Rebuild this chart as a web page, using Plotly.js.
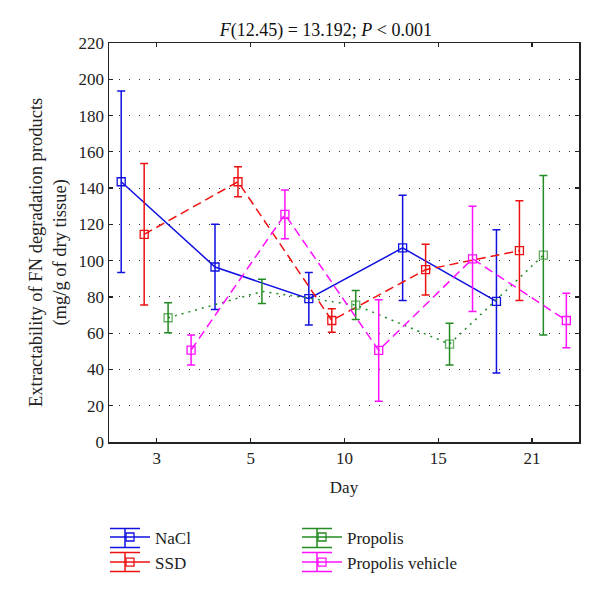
<!DOCTYPE html>
<html>
<head>
<meta charset="utf-8">
<script src="https://cdn.plot.ly/plotly-3.0.1.min.js"></script>
<style>html,body{margin:0;padding:0;background:#fff;}#chart{width:600px;height:595px;}</style>
</head>
<body>
<div id="chart"></div>
<script>
// Data
var days = ["3", "5", "10", "15", "21"];
var seriesNames = ["NaCl", "SSD", "Propolis", "Propolis vehicle"];
var naclMean = [143.5, 96.5, 79, 107, 77.5];
var naclErr  = [50, 23.5, 14.5, 29, 39.5];
var ssdMean  = [114.5, 143.5, 67, 95, 105.5];
var ssdErr   = [39, 8.3, 6.5, 14, 27.5];
var propMean = [68.5, 83, 75.5, 54, 103];
var propErr  = [8.3, 6.7, 8, 11.5, 44];
var vehMean  = [50.7, 125.5, 50.5, 101, 67];
var vehErr   = [8.3, 13.5, 28, 29, 15];

var catIdx = days.map(function(d, i){ return i; });
function shifted(off){ return catIdx.map(function(i){ return i + off; }); }

var font = "'Liberation Serif', 'Times New Roman', serif";
var colors = ['#1010e0', '#ee1111', '#228b22', '#ff10ff'];

function mk(name, xs, ys, errs, color, dash, sizes){
  return {
    type: 'scatter', mode: 'lines+markers', name: name, showlegend: false,
    x: xs, y: ys,
    line: {color: color, width: 1.5, dash: dash},
    marker: {symbol: 'square-open', size: sizes || 8, color: color, line: {width: 1.3, color: color}},
    error_y: {type: 'data', array: errs, visible: true, color: color, thickness: 1.5, width: 4}
  };
}
// legend-only entries (solid lines as in the reference key)
function leg(name, color, rank){
  return {
    type: 'scatter', mode: 'lines+markers', name: name, legendrank: rank,
    x: [null], y: [null], hoverinfo: 'skip',
    line: {color: color, width: 1.5},
    marker: {symbol: 'square-open', size: 8, color: color, line: {width: 1.3, color: color}}
  };
}

var traces = [
  mk(seriesNames[0], shifted(-0.38), naclMean, naclErr, colors[0], 'solid'),
  mk(seriesNames[1], shifted(-0.135), ssdMean, ssdErr, colors[1], '9px,5px'),
  mk(seriesNames[2], shifted(0.12), propMean, propErr, colors[2], '2px,5px', [8, 0, 8, 8, 8]),
  mk(seriesNames[3], shifted(0.365), vehMean, vehErr, colors[3], '9px,5px'),
  leg(seriesNames[0], colors[0], 1),
  leg(seriesNames[2], colors[2], 2),
  leg(seriesNames[1], colors[1], 3),
  leg(seriesNames[3], colors[3], 4)
];

// error-bar glyphs for the legend key (pixel positions converted to paper coords)
function px2x(p){ return (p - 109) / 470; }
function px2y(p){ return (442 - p) / 399; }
var keySlots = [
  {c: colors[0], x0: 110, x1: 140, yc: 538},
  {c: colors[1], x0: 110, x1: 140, yc: 562},
  {c: colors[2], x0: 302, x1: 332, yc: 538},
  {c: colors[3], x0: 302, x1: 332, yc: 562}
];
var shapes = [];
keySlots.forEach(function(s){
  var ln = {color: s.c, width: 1.5};
  var xm = (s.x0 + s.x1) / 2;
  shapes.push({type: 'line', xref: 'paper', yref: 'paper', x0: px2x(s.x0), x1: px2x(s.x1), y0: px2y(s.yc - 9.5), y1: px2y(s.yc - 9.5), line: ln});
  shapes.push({type: 'line', xref: 'paper', yref: 'paper', x0: px2x(s.x0), x1: px2x(s.x1), y0: px2y(s.yc + 9.5), y1: px2y(s.yc + 9.5), line: ln});
  shapes.push({type: 'line', xref: 'paper', yref: 'paper', x0: px2x(xm), x1: px2x(xm), y0: px2y(s.yc - 9.5), y1: px2y(s.yc + 9.5), line: ln});
});

var layout = {
  width: 600, height: 595,
  margin: {l: 109, r: 21, t: 43, b: 153, autoexpand: false},
  paper_bgcolor: '#fff', plot_bgcolor: '#fff',
  font: {family: font, size: 17, color: '#222'},
  showlegend: true,
  shapes: shapes,
  title: {
    text: '<i>F</i>(12.45) = 13.192; <i>P</i> < 0.001',
    font: {family: font, size: 18, color: '#111'},
    x: 0.543, xref: 'container', xanchor: 'center',
    y: 0.95, yref: 'container', yanchor: 'middle'
  },
  annotations: [{
    text: 'Extractability of FN degradation products<br>(mg/g of dry tissue)',
    xref: 'paper', yref: 'paper', x: -0.13, y: 0.476,
    xanchor: 'center', yanchor: 'middle', textangle: -90, showarrow: false,
    font: {family: font, size: 18.5, color: '#222'}
  }],
  xaxis: {
    range: [-0.51, 4.5], automargin: false,
    tickmode: 'array', tickvals: catIdx, ticktext: days,
    ticks: 'inside', ticklen: 4, tickwidth: 1.2, tickcolor: '#222',
    showline: true, linecolor: '#222', linewidth: 1.5, mirror: 'ticks',
    showgrid: false, zeroline: false,
    tickfont: {family: font, size: 17, color: '#222'},
    title: {text: 'Day', font: {family: font, size: 17, color: '#222'}, standoff: 14}
  },
  yaxis: {
    range: [0, 220], tickmode: 'linear', tick0: 0, dtick: 20, automargin: false,
    ticks: 'inside', ticklen: 4, tickwidth: 1.2, tickcolor: '#222',
    showline: true, linecolor: '#222', linewidth: 1.5, mirror: 'ticks',
    showgrid: true, gridcolor: '#333', gridwidth: 1, griddash: '1px,9px',
    zeroline: false,
    tickfont: {family: font, size: 17, color: '#222'}
  },
  legend: {
    orientation: 'h', x: 0.175, xanchor: 'left', y: 0.127, yanchor: 'top',
    xref: 'container', yref: 'container',
    entrywidth: 137, entrywidthmode: 'pixels',
    traceorder: 'normal', tracegroupgap: 0,
    font: {family: font, size: 17, color: '#222'},
    bgcolor: 'rgba(0,0,0,0)', itemwidth: 40
  }
};

Plotly.newPlot('chart', traces, layout, {displayModeBar: false, staticPlot: true});
</script>
</body>
</html>
